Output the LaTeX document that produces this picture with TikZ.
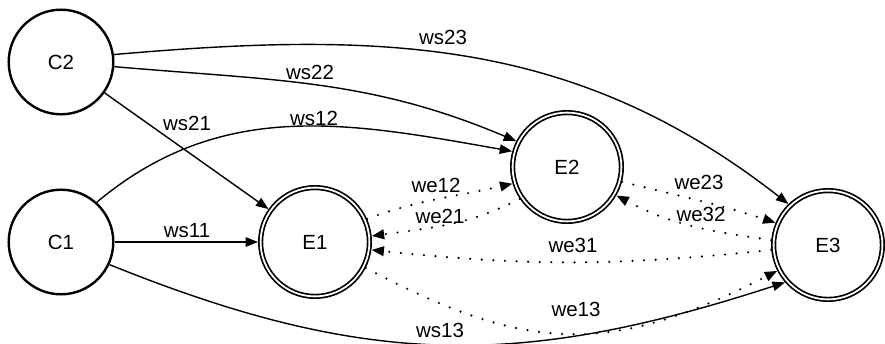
\documentclass[tikz,border=0pt]{standalone}
\usepackage{fontspec}
\setmainfont{Liberation Sans}
\usetikzlibrary{arrows.meta}
\begin{document}
\begin{tikzpicture}[x=1pt,y=1pt,
  every node/.style={font=\fontsize{20.5}{24}\selectfont},
  cnode/.style={circle,draw,line width=2.4pt,minimum size=104.6pt,inner sep=0pt,outer sep=1.2pt},
  enode/.style={circle,draw,double,line width=1.7pt,double distance=1.8pt,minimum size=108.8pt,inner sep=0pt,outer sep=2.6pt},
  lbl/.style={inner sep=0pt},
  tip/.style={-{Triangle[length=12.5pt,width=9.5pt]}},
  sedge/.style={line width=1.4pt,tip},
  eedge/.style={line width=2.4pt,line cap=round,dash pattern=on 0pt off 11.6pt,-{Triangle[length=12.5pt,width=9.5pt,line cap=butt]}}
]
\useasboundingbox (0,0) rectangle (885,343);
\node[cnode] (C2) at (61,281) {C2};
\node[cnode] (C1) at (61,101) {C1};
\node[enode] (E1) at (315,101) {E1};
\node[enode] (E2) at (567,176) {E2};
\node[enode] (E3) at (828,98) {E3};

\draw[sedge] (C2.8) to[out=5,in=142] (E3.134);
\draw[sedge] (C2.-5) to[out=-5,in=157] (E2.153);
\draw[sedge] (C2) -- (E1);
\draw[sedge] (C1.48) to[out=40,in=170] (E2.164);
\draw[sedge] (C1) -- (E1);
\draw[sedge] (C1.-25) to[out=-22,in=198,looseness=1.05] (E3.221);

\draw[eedge] (E1.24) to[out=20,in=193] (E2.197);
\draw[eedge] (E2.214) to[out=207,in=8] (E1.6);
\draw[eedge] (E3.185) to[out=186,in=-6] (E1.-8);
\draw[eedge] (E1.-27) to[out=-28,in=207,looseness=1.15] (E3.207);
\draw[eedge] (E2.-15) to[out=-14,in=162] (E3.157);
\draw[eedge] (E3.175) to[out=172,in=-28] (E2.-30);

\node[lbl] (l23) at (443,306) {ws23};
\node[lbl] (l22) at (310,271) {ws22};
\node[lbl] (l21) at (187,220) {ws21};
\node[lbl] (l12) at (314,225) {ws12};
\node[lbl] (l11) at (187,112) {ws11};
\node[lbl] (l13) at (440,13) {ws13};
\node[lbl] (m12) at (436,158) {we12};
\node[lbl] (m21) at (440,127) {we21};
\node[lbl] (m31) at (573,98) {we31};
\node[lbl] (m13) at (576,34) {we13};
\node[lbl] (m23) at (699,161) {we23};
\node[lbl] (m32) at (701,129) {we32};
\end{tikzpicture}
\end{document}
